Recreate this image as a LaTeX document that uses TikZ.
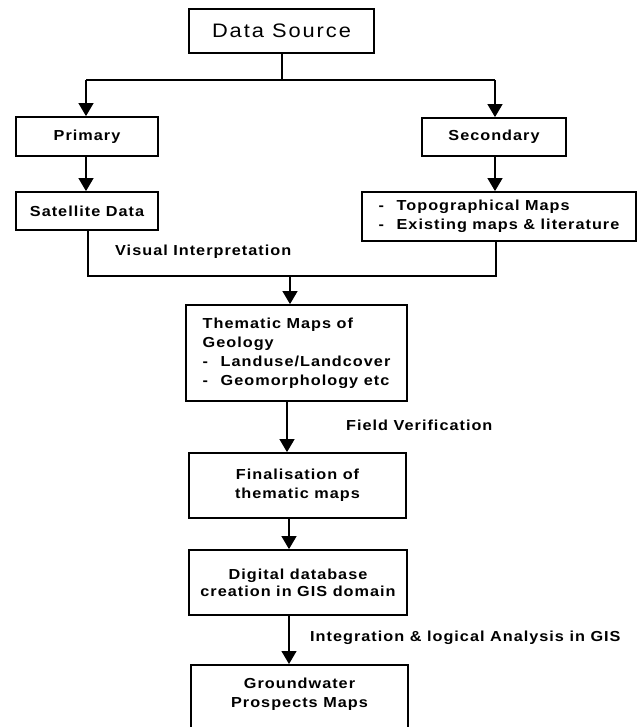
\documentclass[tikz,border=0pt]{standalone}
\usepackage{fontspec}
\setmainfont{Liberation Sans}[FakeStretch=1.12, LetterSpace=7]
\newfontfamily\dsfont{Liberation Sans}[FakeStretch=1.12, LetterSpace=10]
\usetikzlibrary{arrows.meta}
\newcommand{\bul}{\makebox[18pt][l]{-}}
\begin{document}
\begin{tikzpicture}[x=1pt,y=-1pt,
  txt/.style={font=\bfseries\fontsize{14.5}{19}\selectfont},
  box/.style={draw, line width=1.8pt, inner sep=0pt, align=center, txt},
  conn/.style={line width=1.2pt},
  arr/.style={conn, -{Triangle[width=15pt,length=13pt]}},
  lbl/.style={txt, inner sep=0pt, anchor=west}]
\useasboundingbox (0,0) rectangle (643,727);
\clip (0,0) rectangle (643,727);
% boxes
\node[box, minimum width=185pt, minimum height=44pt, font=\dsfont\fontsize{19.5}{22}\selectfont] (ds) at (281.5,31) {Data Source};
\node[box, minimum width=142pt, minimum height=39pt] (prim) at (87,136.5) {Primary};
\node[box, minimum width=144pt, minimum height=38pt] (sec) at (494,137) {Secondary};
\node[box, minimum width=142pt, minimum height=38pt] (sat) at (87,211) {Satellite Data};
\node[box, minimum width=274pt, minimum height=49pt, align=left] (topo) at (499,216.5) {\bul Topographical Maps\\\bul Existing maps \& literature};
\node[box, minimum width=221pt, minimum height=96pt, align=left] (them) at (296.5,353) {Thematic Maps of\\Geology\\\bul Landuse/Landcover\\\bul Geomorphology etc};
\node[box, minimum width=217pt, minimum height=65pt] (fin) at (297.5,485.5) {Finalisation of\\thematic maps};
\node[box, minimum width=218pt, minimum height=65pt, font=\bfseries\fontsize{14.5}{17}\selectfont] (dig) at (298,582.5) {Digital database\\creation in GIS domain};
\node[box, minimum width=217pt, minimum height=100pt, anchor=north] (gw) at (299.5,664) {};
\node[txt, align=center, inner sep=0pt] (gwt) at (299.5,694.5) {Groundwater\\Prospects Maps};
% labels
\node[lbl] (vis) at (115,252) {Visual Interpretation};
\node[lbl] (fv) at (346,425) {Field Verification};
\node[lbl] (ia) at (310,638) {Integration \& logical Analysis in GIS};
% junctions
\coordinate (j1) at (282,80);
\coordinate (j2) at (290,276);
\coordinate (pl) at (86,80);
\coordinate (sr) at (495,80);
\coordinate (ml) at (88,276);
\coordinate (mr) at (496,276);
% connectors
\draw[conn] (ds.south -| j1) -- (j1);
\draw[conn] (pl) -- (sr);
\draw[arr] (pl) -- (pl |- prim.north);
\draw[arr] (sr) -- (sr |- sec.north);
\draw[arr] (pl |- prim.south) -- (pl |- sat.north);
\draw[arr] (sr |- sec.south) -- (sr |- topo.north);
\draw[conn] (ml |- sat.south) -- (ml) -- (mr) -- (mr |- topo.south);
\draw[arr] (j2) -- (j2 |- them.north);
\draw[arr] ([xshift=-9.5pt]them.south) -- ([xshift=-9.5pt]them.south |- fin.north);
\draw[arr] ([xshift=-8.5pt]fin.south) -- ([xshift=-8.5pt]fin.south |- dig.north);
\draw[arr] ([xshift=-9pt]dig.south) -- ([xshift=-9pt]dig.south |- gw.north);
\end{tikzpicture}
\end{document}
